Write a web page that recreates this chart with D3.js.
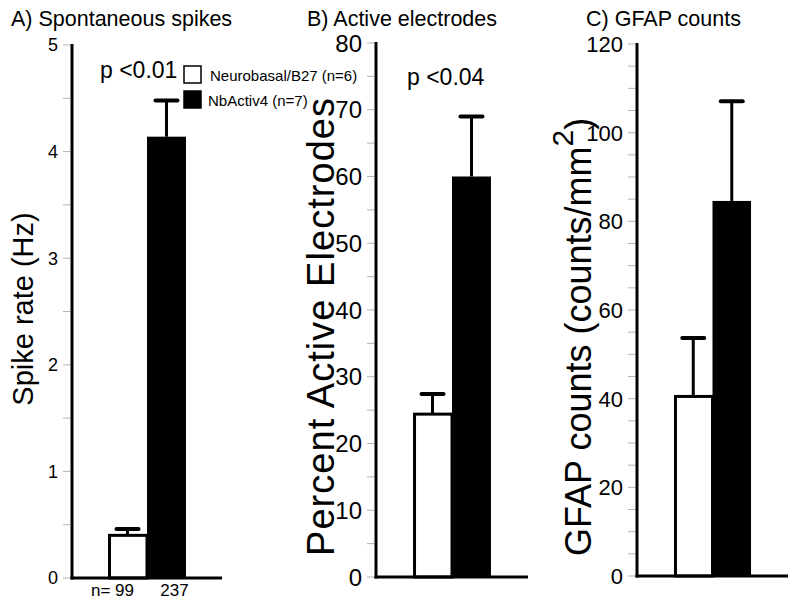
<!DOCTYPE html>
<html>
<head>
<meta charset="utf-8">
<script src="https://cdn.jsdelivr.net/npm/d3@7"></script>
<style>
  html, body { margin: 0; padding: 0; background: #fff; }
  svg { display: block; }
  text { font-family: "Liberation Sans", Arial, Helvetica, sans-serif; fill: #000; }
</style>
</head>
<body>
<svg id="chart" width="800" height="604"></svg>
<script>
// ---- data ----
const groups = ["Neurobasal/B27", "NbActiv4"];
const groupN = ["(n=6)", "(n=7)"];
const spikeRate = [0.40, 4.14];
const spikeRateErr = [0.06, 0.34];
const spikeCounts = ["n= 99", "237"];
const activeElectrodes = [24.4, 60.0];
const activeElectrodesErr = [3.0, 9.0];
const gfapCounts = [40.5, 84.6];
const gfapCountsErr = [13.2, 22.5];
const spikeTicks = [0, 1, 2, 3, 4, 5];
const activeTicks = [0, 10, 20, 30, 40, 50, 60, 70, 80];
const gfapTicks = [0, 20, 40, 60, 80, 100, 120];
const fills = ["#fff", "#000"];

const svg = d3.select("#chart");

function panel(cfg) {
  const g = svg.append("g");
  const x = d3.scaleBand().domain(groups).range([cfg.x0, cfg.x1]).paddingInner(0).paddingOuter(cfg.pad);
  const y = d3.scaleLinear().domain(cfg.domain).range([cfg.yBottom, cfg.yTop]);

  // minor ticks
  const minor = d3.range(cfg.domain[0], cfg.domain[1] + cfg.minorStep / 2, cfg.minorStep);
  g.selectAll("line.minor").data(minor).join("line")
    .attr("x1", cfg.x0 - 9).attr("x2", cfg.x0)
    .attr("y1", d => y(d)).attr("y2", d => y(d))
    .attr("stroke", "#b5b5b5").attr("stroke-width", 1);

  // tick labels
  g.selectAll("text.tl").data(cfg.ticks).join("text")
    .attr("x", cfg.x0 - 14).attr("y", d => y(d))
    .attr("dy", "0.36em")
    .attr("text-anchor", "end")
    .attr("font-size", cfg.tickFont)
    .text(d => d);

  // bars
  g.selectAll("rect.bar").data(cfg.values).join("rect")
    .attr("x", (d, i) => x(groups[i]) + (i === 0 ? 1.5 : 0))
    .attr("y", d => y(d))
    .attr("width", (d, i) => x.bandwidth() - (i === 0 ? 1.5 : 0))
    .attr("height", d => y(0) - y(d))
    .attr("fill", (d, i) => fills[i])
    .attr("stroke", "#000")
    .attr("stroke-width", (d, i) => i === 0 ? 3 : 0);

  // error bars
  const cx = i => x(groups[i]) + x.bandwidth() / 2;
  g.selectAll("line.stem").data(cfg.values).join("line")
    .attr("x1", (d, i) => cx(i)).attr("x2", (d, i) => cx(i))
    .attr("y1", d => y(d)).attr("y2", (d, i) => y(d + cfg.errs[i]))
    .attr("stroke", "#000").attr("stroke-width", 3);
  g.selectAll("line.cap").data(cfg.values).join("line")
    .attr("x1", (d, i) => cx(i) - 11).attr("x2", (d, i) => cx(i) + 11)
    .attr("y1", (d, i) => y(d + cfg.errs[i])).attr("y2", (d, i) => y(d + cfg.errs[i]))
    .attr("stroke", "#000").attr("stroke-width", 4).attr("stroke-linecap", "round");

  // axis line and baseline
  g.append("line").attr("x1", cfg.x0).attr("x2", cfg.x0)
    .attr("y1", y(cfg.domain[1]) - 1).attr("y2", y(0) + 1.5)
    .attr("stroke", "#000").attr("stroke-width", 3);
  g.append("line").attr("x1", cfg.x0 - 1.5).attr("x2", cfg.x1)
    .attr("y1", y(0)).attr("y2", y(0))
    .attr("stroke", "#000").attr("stroke-width", 3);

  // panel title
  g.append("text").attr("x", cfg.titleX).attr("y", 26)
    .attr("font-size", 21.5).text(cfg.title);

  return { g, x, y };
}

const A = panel({
  x0: 72, x1: 222, pad: 0.923, domain: [0, 5], yBottom: 578, yTop: 45,
  minorStep: 0.5, ticks: spikeTicks, tickFont: 18,
  values: spikeRate, errs: spikeRateErr,
  title: "A) Spontaneous spikes", titleX: 11
});
const B = panel({
  x0: 376, x1: 528, pad: 0.95, domain: [0, 80], yBottom: 577, yTop: 43,
  minorStep: 5, ticks: activeTicks, tickFont: 24,
  values: activeElectrodes, errs: activeElectrodesErr,
  title: "B) Active electrodes", titleX: 307
});
const C = panel({
  x0: 637, x1: 788, pad: 0.96, domain: [0, 120], yBottom: 576, yTop: 44,
  minorStep: 5, ticks: gfapTicks, tickFont: 22,
  values: gfapCounts, errs: gfapCountsErr,
  title: "C) GFAP counts", titleX: 586
});

// y axis titles
svg.append("text")
  .attr("transform", "translate(33,309) rotate(-90)")
  .attr("text-anchor", "middle").attr("font-size", 29)
  .text("Spike rate (Hz)");
svg.append("text")
  .attr("transform", "translate(334,556) rotate(-90)")
  .attr("font-size", 38)
  .attr("textLength", 458).attr("lengthAdjust", "spacing")
  .text("Percent Active Electrodes");
const cl = svg.append("text")
  .attr("transform", "translate(591,556) rotate(-90)")
  .attr("font-size", 36);
cl.append("tspan").text("GFAP counts (counts/mm");
cl.append("tspan").attr("dy", -18).attr("font-size", 30).text("2");
cl.append("tspan").attr("dy", 18).text(")");

// p values
svg.append("text").attr("x", 100).attr("y", 78).attr("font-size", 23).text("p <0.01");
svg.append("text").attr("x", 407).attr("y", 85).attr("font-size", 23).text("p <0.04");

// legend
const legY = [66, 91];
svg.selectAll("rect.leg").data(groups).join("rect")
  .attr("x", 184).attr("y", (d, i) => legY[i])
  .attr("width", 17).attr("height", 17)
  .attr("fill", (d, i) => fills[i]).attr("stroke", "#000").attr("stroke-width", 1.5);
svg.selectAll("text.leg").data(groups).join("text")
  .attr("x", (d, i) => i === 0 ? 210 : 208).attr("y", (d, i) => legY[i] + 15)
  .attr("font-size", 15)
  .text((d, i) => d + " " + groupN[i]);

// n counts under panel A
svg.selectAll("text.n").data(spikeCounts).join("text")
  .attr("x", (d, i) => A.x(groups[i]) + A.x.bandwidth() / 2 + (i === 0 ? -15 : 8))
  .attr("y", 596).attr("text-anchor", "middle").attr("font-size", 17)
  .text(d => d);
</script>
</body>
</html>
